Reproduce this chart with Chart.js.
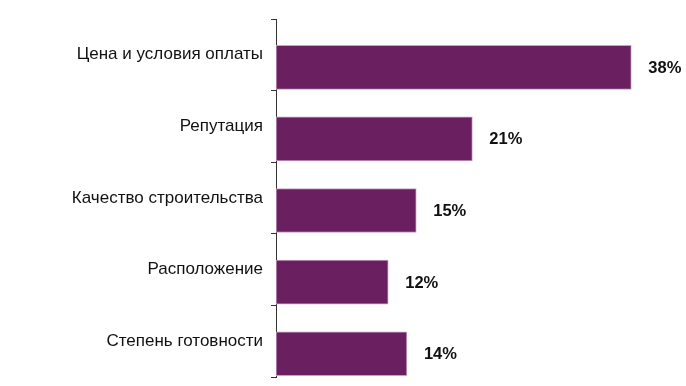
<!DOCTYPE html>
<html>
<head>
<meta charset="utf-8">
<script src="https://cdn.jsdelivr.net/npm/chart.js@4"></script>
<style>
  html, body { margin: 0; padding: 0; background: #fff; }
  #wrap { width: 686px; height: 386px; }
</style>
</head>
<body>
<div id="wrap"><canvas id="myChart"></canvas></div>
<script>
var categories = ["Цена и условия оплаты", "Репутация", "Качество строительства", "Расположение", "Степень готовности"];
var shares = [38, 21, 15, 12, 14];
var valueLabels = ["38%", "21%", "15%", "12%", "14%"];

// bars sit in the lower part of each category band
var barShift = 0.175;

var valueLabelPlugin = {
  id: 'valueLabels',
  afterDatasetsDraw: function(chart) {
    var ctx = chart.ctx;
    var meta = chart.getDatasetMeta(0);
    ctx.save();
    ctx.font = 'bold 16.5px "Liberation Sans", Arial, sans-serif';
    ctx.fillStyle = '#111';
    ctx.textAlign = 'left';
    ctx.textBaseline = 'middle';
    meta.data.forEach(function(bar, i) {
      ctx.fillText(valueLabels[i], bar.x + 17, bar.y + 1);
    });
    ctx.restore();
  }
};

var ctx = document.getElementById('myChart').getContext('2d');
var myBarChart = new Chart(ctx, {
  type: 'bar',
  data: {
    labels: categories,
    datasets: [{
      data: shares.map(function(v, i) { return { x: v, y: i + barShift }; }),
      yAxisID: 'yBars',
      backgroundColor: '#6a1f61',
      borderColor: '#c7a0c2',
      borderWidth: 1,
      borderSkipped: false,
      barThickness: 44
    }]
  },
  options: {
    indexAxis: 'y',
    responsive: true,
    maintainAspectRatio: false,
    animation: false,
    layout: { padding: { top: 19, bottom: 9, right: 36, left: 0 } },
    plugins: {
      legend: { display: false },
      tooltip: { enabled: false }
    },
    scales: {
      x: {
        type: 'linear',
        min: 0,
        max: 40,
        display: false
      },
      y: {
        type: 'category',
        labels: categories,
        offset: true,
        position: 'left',
        grid: {
          offset: true,
          drawOnChartArea: false,
          drawTicks: true,
          tickLength: 5,
          color: '#333'
        },
        border: { display: true, color: '#333', width: 1 },
        ticks: {
          color: '#111',
          padding: 8,
          font: { family: '"Liberation Sans", Arial, sans-serif', size: 17 }
        },
        afterFit: function(axis) {
          axis.width = 276;
          axis.paddingTop = 0;
          axis.paddingBottom = 0;
        }
      },
      yBars: {
        type: 'linear',
        min: -0.5,
        max: 4.5,
        offset: false,
        reverse: true,
        display: false
      }
    }
  },
  plugins: [valueLabelPlugin]
});
</script>
</body>
</html>
